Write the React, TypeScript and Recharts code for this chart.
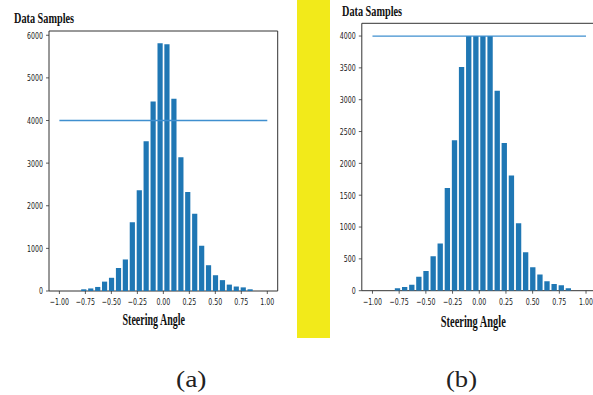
import React from 'react';
import { BarChart, Bar, XAxis, YAxis, ReferenceLine, ReferenceArea } from 'recharts';

// Histogram bin centres (30 bins over [-1, 1])
const binCenters = [
  -0.967, -0.9, -0.833, -0.767, -0.7, -0.633, -0.567, -0.5, -0.433, -0.367,
  -0.3, -0.233, -0.167, -0.1, -0.033, 0.033, 0.1, 0.167, 0.233, 0.3,
  0.367, 0.433, 0.5, 0.567, 0.633, 0.7, 0.767, 0.833, 0.9, 0.967,
];

// (a) original sample counts per bin
const samplesA = [
  0, 0, 0, 40, 60, 95, 220, 310, 540, 740,
  1615, 2365, 3515, 4445, 5810, 5790, 4510, 3140, 2320, 1810,
  1060, 605, 370, 255, 150, 105, 85, 40, 0, 0,
];

// (b) counts after capping at samples per bin
const samplesB = [
  0, 0, 0, 40, 60, 95, 220, 310, 540, 740,
  1615, 2365, 3515, 4000, 4000, 4000, 4000, 3140, 2320, 1810,
  1060, 605, 370, 255, 150, 105, 85, 40, 0, 0,
];

const samplesPerBin = 4000;
const xTicks = [-1, -0.75, -0.5, -0.25, 0, 0.25, 0.5, 0.75, 1];
const yTicksA = [0, 1000, 2000, 3000, 4000, 5000, 6000];
const yTicksB = [0, 500, 1000, 1500, 2000, 2500, 3000, 3500, 4000];
const xDomain: [number, number] = [-1.1, 1.1];
const barWidthUnits = 0.05;

const dataA = binCenters.map((c, i) => ({ angle: c, count: samplesA[i] }));
const dataB = binCenters.map((c, i) => ({ angle: c, count: samplesB[i] }));

const TICK_FONT = "'DejaVu Sans', sans-serif";
const SERIF = "'Liberation Serif', 'Times New Roman', serif";
const BAR_COLOR = '#1f77b4';
const LINE_COLOR = '#3f8fcf';
const AXIS_COLOR = '#333';

const fmtX = (v: number) => v.toFixed(2).replace('-', '\u2212');

function XTick(props: any) {
  const { x, y, payload } = props;
  return (
    <g transform={`translate(${x},${y}) scale(0.66,1)`}>
      <text x={0} y={0} dy={11.5} textAnchor="middle" fontSize={9.5} fontFamily={TICK_FONT} fill="#1a1a1a">
        {fmtX(payload.value)}
      </text>
    </g>
  );
}

function YTick(props: any) {
  const { x, y, payload } = props;
  return (
    <g transform={`translate(${x},${y}) scale(0.66,1)`}>
      <text x={0} y={0} dy={3.4} textAnchor="end" fontSize={9.5} fontFamily={TICK_FONT} fill="#1a1a1a">
        {String(payload.value)}
      </text>
    </g>
  );
}

type PanelProps = {
  left: number;
  width: number;
  height: number;
  data: { angle: number; count: number }[];
  yTicks: number[];
  yMax: number;
  margin: { top: number; right: number; bottom: number; left: number };
  yAxisWidth: number;
};

function Panel({ left, width, height, data, yTicks, yMax, margin, yAxisWidth }: PanelProps) {
  const plotWidth = width - margin.left - margin.right - yAxisWidth;
  const barSize = (plotWidth / (xDomain[1] - xDomain[0])) * barWidthUnits;
  return (
    <div style={{ position: 'absolute', left, top: 0, width, height }}>
      <BarChart width={width} height={height} data={data} margin={margin} barCategoryGap={0} barGap={0}>
        <XAxis
          dataKey="angle"
          type="number"
          domain={xDomain}
          ticks={xTicks}
          allowDataOverflow
          height={30}
          axisLine={false}
          tickLine={{ stroke: AXIS_COLOR, strokeWidth: 0.8 }}
          tickSize={3}
          tickMargin={0}
          tick={<XTick />}
          interval={0}
        />
        <YAxis
          type="number"
          domain={[0, yMax]}
          ticks={yTicks}
          allowDataOverflow
          width={yAxisWidth}
          axisLine={false}
          tickLine={{ stroke: AXIS_COLOR, strokeWidth: 0.8 }}
          tickSize={3}
          tickMargin={3}
          tick={<YTick />}
          interval={0}
        />
        <Bar dataKey="count" fill={BAR_COLOR} barSize={barSize} isAnimationActive={false} />
        <ReferenceLine
          segment={[
            { x: -1, y: samplesPerBin },
            { x: 1, y: samplesPerBin },
          ]}
          stroke={LINE_COLOR}
          strokeWidth={1.3}
        />
        <ReferenceArea
          x1={xDomain[0]}
          x2={xDomain[1]}
          y1={0}
          y2={yMax}
          fill="none"
          fillOpacity={0}
          stroke={AXIS_COLOR}
          strokeWidth={1}
          strokeOpacity={1}
        />
      </BarChart>
    </div>
  );
}

export default function App() {
  return (
    <div
      style={{
        position: 'absolute',
        left: 0,
        top: 0,
        width: 593,
        height: 395,
        overflow: 'hidden',
        background: '#fff',
      }}
    >
      <Panel
        left={0}
        width={290}
        height={340}
        data={dataA}
        yTicks={yTicksA}
        yMax={6100}
        yAxisWidth={49}
        margin={{ top: 31, right: 12.3, bottom: 19, left: 0 }}
      />
      <Panel
        left={300}
        width={300}
        height={340}
        data={dataB}
        yTicks={yTicksB}
        yMax={4200}
        yAxisWidth={61.8}
        margin={{ top: 23.3, right: 3.3, bottom: 19.3, left: 0 }}
      />
      <svg
        width={593}
        height={395}
        style={{ position: 'absolute', left: 0, top: 0, pointerEvents: 'none' }}
      >
        <rect x={297} y={0} width={33} height={338} fill="#f2ea1a" />
        <text x={14} y={22.5} fontFamily={SERIF} fontWeight="bold" fontSize={15} fill="#111"
          textLength={60} lengthAdjust="spacingAndGlyphs">Data Samples</text>
        <text x={342} y={15.5} fontFamily={SERIF} fontWeight="bold" fontSize={15} fill="#111"
          textLength={60} lengthAdjust="spacingAndGlyphs">Data Samples</text>
        <text x={122.5} y={324.5} fontFamily={SERIF} fontWeight="bold" fontSize={17} fill="#111"
          textLength={62.5} lengthAdjust="spacingAndGlyphs">Steering Angle</text>
        <text x={440.8} y={326.5} fontFamily={SERIF} fontWeight="bold" fontSize={17} fill="#111"
          textLength={65} lengthAdjust="spacingAndGlyphs">Steering Angle</text>
        <text x={176} y={387} fontFamily={SERIF} fontSize={24} fill="#222"
          textLength={30.5} lengthAdjust="spacingAndGlyphs">(a)</text>
        <text x={446} y={387} fontFamily={SERIF} fontSize={24} fill="#222"
          textLength={31} lengthAdjust="spacingAndGlyphs">(b)</text>
      </svg>
    </div>
  );
}
